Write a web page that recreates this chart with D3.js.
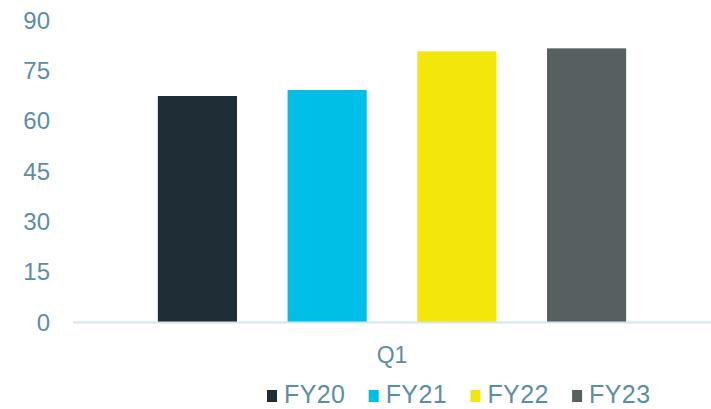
<!DOCTYPE html>
<html>
<head>
<meta charset="utf-8">
<script src="https://cdn.jsdelivr.net/npm/d3@7"></script>
<style>
  body { margin: 0; background: #fff; }
  text { font-family: "Liberation Sans", Arial, sans-serif; }
</style>
</head>
<body>
<div id="chart-area"></div>
<script>
// data
var categories = ["Q1"];
var series = ["FY20", "FY21", "FY22", "FY23"];
var values = [67.5, 69.3, 80.8, 81.7];
var yTicks = [0, 15, 30, 45, 60, 75, 90];
var colors = ["#1e2d36", "#00bfe7", "#f2e60a", "#575f61"];

var width = 711, height = 409;
var textColor = "#5b8ea8";

var svg = d3.select("#chart-area")
	.append("svg")
		.attr("width", width)
		.attr("height", height);

// scales
var x0 = d3.scaleBand()
		.domain(categories)
		.range([73, 711]);

var x1 = d3.scaleBand()
		.domain(series)
		.range([x0("Q1"), x0("Q1") + x0.bandwidth()])
		.paddingInner(0.39)
		.paddingOuter(0.654);

var y = d3.scaleLinear()
		.domain([0, 90])
		.range([322.5, 20.5]);

var color = d3.scaleOrdinal().domain(series).range(colors);

// y axis (labels only)
var yAxis = svg.append("g")
		.attr("transform", "translate(50,0)")
		.call(d3.axisLeft(y).tickValues(yTicks).tickSize(0).tickPadding(0));
yAxis.select(".domain").remove();
yAxis.selectAll("text")
	.attr("fill", textColor)
	.attr("font-size", "24px")
	.attr("font-family", "Liberation Sans, Arial, sans-serif");

// bars
svg.selectAll("rect.bar")
	.data(values)
	.enter()
	.append("rect")
		.attr("class", "bar")
		.attr("x", function(d, i){ return x1(series[i]); })
		.attr("width", x1.bandwidth())
		.attr("y", function(d){ return y(d); })
		.attr("height", function(d){ return y(0) - y(d); })
		.attr("fill", function(d, i){ return color(series[i]); });

// x axis line + category label
svg.append("line")
	.attr("x1", 73)
	.attr("x2", 711)
	.attr("y1", y(0))
	.attr("y2", y(0))
	.attr("stroke", "#d5e5ee")
	.attr("stroke-width", 2);

svg.selectAll("text.cat")
	.data(categories)
	.enter()
	.append("text")
		.attr("class", "cat")
		.attr("x", function(d){ return x0(d) + x0.bandwidth() / 2; })
		.attr("y", 363)
		.attr("text-anchor", "middle")
		.attr("font-size", "23px")
		.attr("fill", textColor)
		.text(function(d){ return d; });

// legend
var legend = svg.append("g")
		.attr("transform", "translate(267,403)");

series.forEach(function(s, i){
	var row = legend.append("g")
			.attr("transform", "translate(" + (i * 101.7) + ",0)");
	row.append("rect")
		.attr("y", -13)
		.attr("width", 10)
		.attr("height", 12)
		.attr("fill", color(s));
	row.append("text")
		.attr("x", 17)
		.attr("y", 0)
		.attr("font-size", "25px")
		.attr("letter-spacing", "0.4px")
		.attr("fill", textColor)
		.text(s);
});
</script>
</body>
</html>
